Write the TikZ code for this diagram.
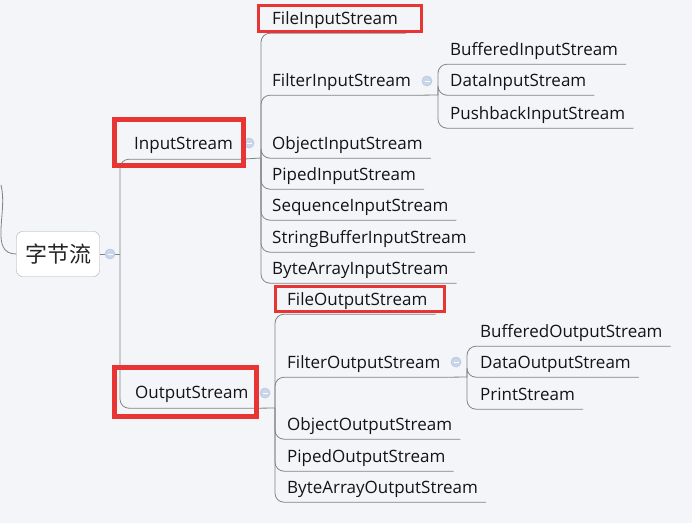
\documentclass[tikz,border=0pt]{standalone}
\usepackage{fontspec}
\setmainfont{Open Sans}
\newfontfamily\cjk{Noto Sans CJK SC}
\usetikzlibrary{positioning,calc}

\definecolor{bgpaper}{RGB}{244,245,249}
\definecolor{edgegray}{RGB}{130,130,130}
\definecolor{markred}{RGB}{233,52,52}
\definecolor{foldblue}{RGB}{200,214,236}

\begin{document}
\begin{tikzpicture}[
  x=1pt, y=-1pt,
  % one base style for the topics; red marks drawn on top afterwards
  topic/.style={anchor=west, font=\fontsize{17}{20}\selectfont, text=black!92,
                inner xsep=8pt, inner ysep=0pt, minimum height=30pt,
                text height=13.5pt, text depth=1.5pt},
  main/.style={topic, minimum height=32pt},
  rootbox/.style={rectangle, rounded corners=6pt, draw=gray!65, fill=white,
                  minimum width=83pt, minimum height=45pt, text=black!85,
                  font=\cjk\fontsize{22}{26}\selectfont},
  edge/.style={draw=edgegray, line width=0.8pt, rounded corners=9pt},
  foldc/.style={circle, draw=foldblue!85!gray, fill=foldblue, minimum size=10pt,
                inner sep=0pt,
                path picture={\draw[white, line width=1pt]
                  ([xshift=2.5pt]path picture bounding box.west) --
                  ([xshift=-2.5pt]path picture bounding box.east);}},
  hlbox/.style={rectangle, draw=markred, inner sep=0pt},
]
\useasboundingbox[fill=bgpaper] (0,0) rectangle (692,523);

%% ── Root ──────────────────────────────────────────────────────────
\node[rootbox] (root) at (58,254) {字节流};
\node[foldc] (rootc) at (110,254) {};
\coordinate (offtop) at (1,185);
\coordinate (rootsp) at (120,254);

%% ── Main branches ─────────────────────────────────────────────────
\node[main] (in)  at (126,143) {InputStream};
\node[main] (out) at (127,392) {OutputStream};
\node[foldc] (inc)  at (249,143) {};
\node[foldc] (outc) at (265,393) {};
\coordinate (insp)  at (261,158);
\coordinate (outsp) at (275,408);

%% ── InputStream children ──────────────────────────────────────────
\foreach \nm/\yy/\txt in {fis/18/FileInputStream, filin/80/FilterInputStream,
    ois/143/ObjectInputStream, pis/174/PipedInputStream,
    sis/205/SequenceInputStream, sbis/237/StringBufferInputStream,
    bais/268/ByteArrayInputStream}
  \node[topic] (\nm) at (264,\yy) {\txt};
\node[foldc] (filinc) at (427,81) {};
\coordinate (filinsp) at (438,95);
\foreach \nm/\yy/\txt in {bis/49/BufferedInputStream, dis/80/DataInputStream,
    pbis/113/PushbackInputStream}
  \node[topic] (\nm) at (442,\yy) {\txt};

%% ── OutputStream children ─────────────────────────────────────────
\foreach \nm/\yy/\txt in {fos/299/FileOutputStream, filout/362/FilterOutputStream,
    oos/424/ObjectOutputStream, pos/456/PipedOutputStream,
    baos/487/ByteArrayOutputStream}
  \node[topic] (\nm) at (279,\yy) {\txt};
\node[foldc] (filoutc) at (456,362) {};
\coordinate (filoutsp) at (467,377);
\foreach \nm/\yy/\txt in {bos/331/BufferedOutputStream, dos/362/DataOutputStream,
    ps/394/PrintStream}
  \node[topic] (\nm) at (472,\yy) {\txt};

%% ── Connectors (spine + underline in one path) ────────────────────
\draw[edge] (offtop) to[out=-75, in=180] (root.west);
\draw[edge] (root) -- (rootc) -- (rootsp);
\foreach \c in {in, out}
  \draw[edge] (rootsp) |- (\c.south east);
\draw[edge] (in.south east) -- (insp);
\foreach \c in {fis, filin, ois, pis, sis, sbis, bais}
  \draw[edge] (insp) |- (\c.south east);
\draw[edge] (filin.south east) -- (filinsp);
\foreach \c in {bis, dis, pbis}
  \draw[edge] (filinsp) |- (\c.south east);
\draw[edge] (out.south east) -- (outsp);
\foreach \c in {fos, filout, oos, pos, baos}
  \draw[edge] (outsp) |- (\c.south east);
\draw[edge] (filout.south east) -- (filoutsp);
\foreach \c in {bos, dos, ps}
  \draw[edge] (filoutsp) |- (\c.south east);

%% ── Fold circles again, over the lines ────────────────────────────
\foreach \c in {rootc, inc, outc, filinc, filoutc}
  \node[foldc] at (\c) {};

%% ── Red marks ─────────────────────────────────────────────────────
\node[hlbox, line width=5pt, minimum width=129pt, minimum height=46pt]
  (inmark)  at (179,142.5) {};
\node[hlbox, line width=5pt, minimum width=142pt, minimum height=49pt]
  (outmark) at (185.5,392) {};
\node[hlbox, line width=3pt, minimum width=163pt, minimum height=26pt]
  (fismark) at (340,18.5) {};
\node[hlbox, line width=3pt, minimum width=169pt, minimum height=25pt]
  (fosmark) at (360,299) {};

\end{tikzpicture}
\end{document}
